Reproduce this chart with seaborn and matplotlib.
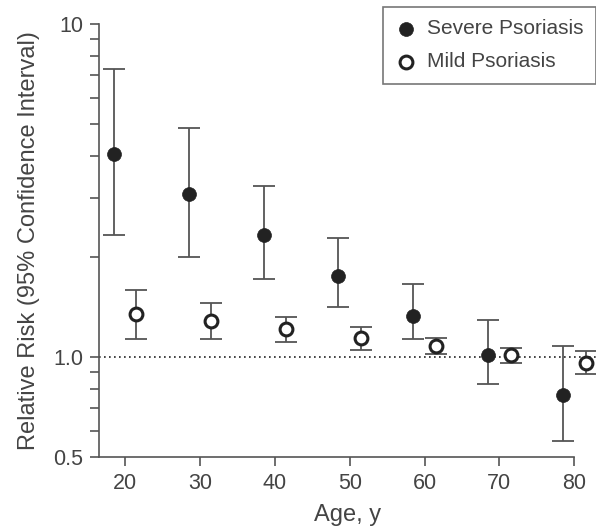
import numpy as np
import pandas as pd
import matplotlib
matplotlib.use("Agg")
import matplotlib.pyplot as plt
import seaborn as sns
from matplotlib.ticker import FixedLocator, NullFormatter, FixedFormatter

# Data
ages = [20, 30, 40, 50, 60, 70, 80]
severe_rr = [4.06, 3.08, 2.33, 1.75, 1.33, 1.01, 0.77]
severe_lo = [2.33, 1.99, 1.71, 1.41, 1.13, 0.83, 0.56]
severe_hi = [7.30, 4.87, 3.26, 2.27, 1.66, 1.29, 1.08]
mild_rr = [1.34, 1.28, 1.21, 1.14, 1.08, 1.01, 0.96]
mild_lo = [1.13, 1.13, 1.11, 1.05, 1.02, 0.96, 0.89]
mild_hi = [1.59, 1.45, 1.32, 1.23, 1.14, 1.06, 1.04]
offset_severe = -1.5
offset_mild = 1.5

sns.set_theme(style="ticks")
plt.rcParams['font.family'] = ['Liberation Sans', 'DejaVu Sans']

gray = "#555555"
dark = "#222222"
text_col = "#444444"

fig = plt.figure(figsize=(5.96, 5.32), dpi=100)
ax = fig.add_axes([0.166, 0.141, 1.0 - 0.166, 0.955 - 0.141])

ax.set_yscale("log")

df = pd.DataFrame({
    "age": [a + offset_severe for a in ages] + [a + offset_mild for a in ages],
    "rr": severe_rr + mild_rr,
    "lo": severe_lo + mild_lo,
    "hi": severe_hi + mild_hi,
    "group": ["Severe Psoriasis"] * len(ages) + ["Mild Psoriasis"] * len(ages),
})

ax.axhline(1.0, color=dark, lw=1.2, ls=(0, (1, 2)), zorder=1)

for grp in ["Severe Psoriasis", "Mild Psoriasis"]:
    d = df[df.group == grp]
    ax.errorbar(d.age, d.rr, yerr=[d.rr - d.lo, d.hi - d.rr], fmt="none",
                ecolor=gray, elinewidth=1.3, capsize=8, capthick=1.3,
                zorder=2, clip_on=False)

sev = df[df.group == "Severe Psoriasis"]
mil = df[df.group == "Mild Psoriasis"]
sns.scatterplot(data=sev, x="age", y="rr", ax=ax, s=100, color=dark,
                edgecolor=dark, linewidth=0.5, zorder=3, clip_on=False,
                label="Severe Psoriasis")
sns.scatterplot(data=mil, x="age", y="rr", ax=ax, s=85, color="white",
                edgecolor=dark, linewidth=2.2, zorder=3, clip_on=False,
                label="Mild Psoriasis")

ax.set_xlim(16.5, 82.9)
ax.set_ylim(0.5, 10)
ax.spines['bottom'].set_bounds(16.5, 80)
ax.spines['left'].set_bounds(0.5, 10)
for s in ['top', 'right']:
    ax.spines[s].set_visible(False)
for s in ['left', 'bottom']:
    ax.spines[s].set_color(gray)
    ax.spines[s].set_linewidth(1.2)

ax.set_xticks(ages)
ax.set_xticklabels([str(a) for a in ages])
ax.yaxis.set_major_locator(FixedLocator([0.5, 1.0, 10]))
ax.yaxis.set_major_formatter(FixedFormatter(["0.5", "1.0", "10"]))
ax.yaxis.set_minor_locator(FixedLocator([0.6, 0.7, 0.8, 0.9, 2, 3, 4, 5, 6, 7, 8, 9]))
ax.yaxis.set_minor_formatter(NullFormatter())
ax.tick_params(axis='both', which='major', direction='out', length=6.5, width=1.2,
               color=gray, labelcolor=text_col, labelsize=15.5, pad=5)
ax.tick_params(axis='y', which='minor', direction='out', length=6.5, width=1.2, color=gray)

ax.set_xlabel("Age, y", fontsize=17, color=text_col, labelpad=7)
ax.set_ylabel("Relative Risk (95% Confidence Interval)", fontsize=17, color=text_col, labelpad=9)

leg = ax.legend(loc="upper right", bbox_to_anchor=(1.0, 1.04), frameon=True,
                fontsize=15, handletextpad=0.5, borderpad=0.6, labelspacing=0.68,
                fancybox=False, handlelength=1.0, borderaxespad=0)
leg.get_frame().set_edgecolor(gray)
leg.get_frame().set_linewidth(1.2)
for t in leg.get_texts():
    t.set_color(text_col)

fig.savefig("out.png", dpi=100)
